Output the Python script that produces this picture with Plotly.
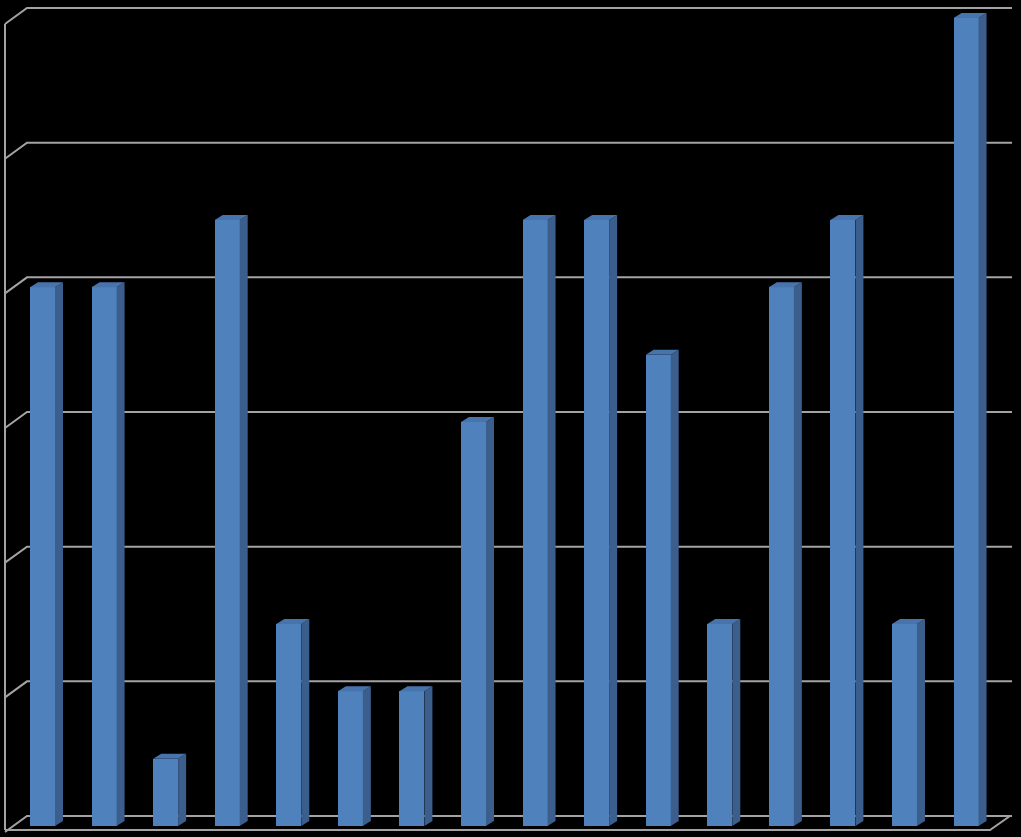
import plotly.graph_objects as go

# ---- data ----
categories = list(range(1, 17))
values = [8, 8, 1, 9, 3, 2, 2, 6, 9, 9, 7, 3, 8, 9, 3, 12]
grid_values = [0, 2, 4, 6, 8, 10, 12]

# ---- geometry (pixel based layout for 1021x837 canvas) ----
W, H = 1021, 837
PX_PER_X = 61.57          # pixels between bar centres
PX_PER_Y = 67.33          # pixels per value unit
X0_PX = 42.5              # pixel centre of first bar
Y0_PX = 826.0             # pixel of value 0 on front plane

x_min = -X0_PX / PX_PER_X
x_max = x_min + W / PX_PER_X
y_min = -(H - Y0_PX) / PX_PER_Y
y_max = y_min + H / PX_PER_Y


def px_x(p):
    return (p - X0_PX) / PX_PER_X


def px_dy(p):
    return p / PX_PER_Y


xs = list(range(len(values)))
bar_w = 25 / PX_PER_X
dx = 8 / PX_PER_X
dy = px_dy(5)

fig = go.Figure()

# side faces
sx, sy = [], []
for x, v in zip(xs, values):
    xr = x + bar_w / 2
    sx += [xr, xr + dx, xr + dx, xr, xr, None]
    sy += [0, dy, v + dy, v, 0, None]
fig.add_trace(go.Scatter(x=sx, y=sy, fill="toself", fillcolor="#3B5E8C",
                         line=dict(width=0, color="#3B5E8C"), mode="lines",
                         hoverinfo="skip", showlegend=False))

# top faces
tx, ty = [], []
for x, v in zip(xs, values):
    xl = x - bar_w / 2
    xr = x + bar_w / 2
    tx += [xl, xl + dx, xr + dx, xr, xl, None]
    ty += [v, v + dy, v + dy, v, v, None]
fig.add_trace(go.Scatter(x=tx, y=ty, fill="toself", fillcolor="#4874AD",
                         line=dict(width=0, color="#4874AD"), mode="lines",
                         hoverinfo="skip", showlegend=False))

# front faces
fig.add_trace(go.Bar(x=xs, y=values, width=bar_w,
                     marker=dict(color="#4F81BD", line=dict(width=0)),
                     hovertext=[str(c) for c in categories],
                     showlegend=False))

# walls / gridlines
back_off = px_dy(10)
wall_drop = px_dy(16)
grid_color = "#A3A3A3"
shapes = []
xl_front, xl_back, x_right = px_x(5), px_x(27), px_x(1012)
for g in grid_values:
    yb = g + back_off
    shapes.append(dict(type="path", xref="x", yref="y", layer="below",
                       path=f"M {xl_front} {yb - wall_drop} L {xl_back} {yb} L {x_right} {yb}",
                       line=dict(color=grid_color, width=2)))
# left wall vertical
y_top_front = grid_values[-1] + back_off - wall_drop
y_floor_front = -px_dy(4)
shapes.append(dict(type="line", xref="x", yref="y", layer="below",
                   x0=xl_front, x1=xl_front, y0=y_floor_front, y1=y_top_front,
                   line=dict(color=grid_color, width=2)))
# floor front edge
shapes.append(dict(type="path", xref="x", yref="y", layer="below",
                   path=f"M {xl_front} {y_floor_front} L {px_x(990)} {y_floor_front} "
                        f"L {px_x(1010)} {back_off}",
                   line=dict(color=grid_color, width=2)))

fig.update_layout(
    width=W, height=H,
    margin=dict(l=0, r=0, t=0, b=0),
    paper_bgcolor="black", plot_bgcolor="black",
    shapes=shapes,
    bargap=0,
    xaxis=dict(range=[x_min, x_max], visible=False, fixedrange=True),
    yaxis=dict(range=[y_min, y_max], visible=False, fixedrange=True),
)

fig.write_html("out.html", config={"displayModeBar": False},
               post_script="document.body.style.margin='0';"
                           "document.body.style.background='black';"
                           "document.body.style.overflow='hidden';")
